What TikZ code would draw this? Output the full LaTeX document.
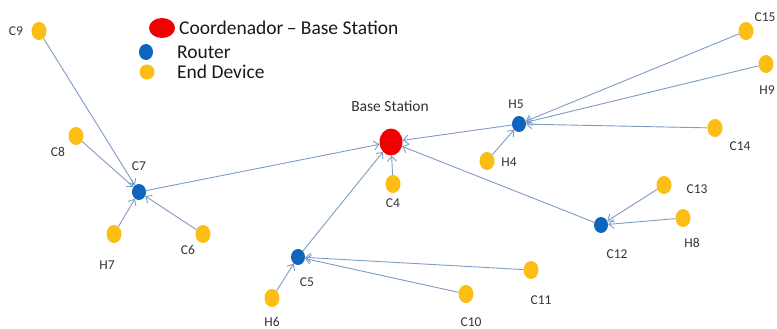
\documentclass[tikz,border=0pt]{standalone}
\usepackage{fontspec}
\setmainfont{Carlito}
\usetikzlibrary{shapes.geometric,arrows.meta}
\definecolor{bsred}{RGB}{240,0,0}
\definecolor{rtblue}{RGB}{15,100,190}
\definecolor{edyellow}{RGB}{252,190,20}
\definecolor{linkcol}{RGB}{125,155,195}
\tikzset{
  bs/.style={ellipse,fill=bsred,draw=none,minimum width=23pt,minimum height=27pt,inner sep=0pt},
  router/.style={ellipse,fill=rtblue,draw=none,minimum width=14pt,minimum height=16pt,inner sep=0pt},
  enddev/.style={ellipse,fill=edyellow,draw=none,minimum width=15pt,minimum height=18pt,inner sep=0pt},
  lbl/.style={font=\fontsize{13.5}{14}\selectfont,text=black!80,inner sep=0pt},
  link/.style={draw=linkcol,line width=0.9pt,-{Straight Barb[length=5pt,width=9pt]}},
  legtext/.style={font=\fontsize{19.5}{21}\selectfont,anchor=west,inner sep=0pt,text=black!90}
}
\begin{document}
\begin{tikzpicture}[x=1pt,y=-1pt]
\useasboundingbox (0,0) rectangle (777,329);
% legend
\node[bs,minimum width=26pt,minimum height=20pt] (legbs) at (162,28) {};
\node[legtext] (legbst) at (179,28) {Coordenador\,– Base Station};
\node[router] (legrt) at (146,52) {};
\node[legtext] (legrtt) at (177,52) {Router};
\node[enddev,minimum width=15pt,minimum height=15pt] (leged) at (147,72) {};
\node[legtext] (legedt) at (177,72) {End Device};

% coordinator
\node[bs] (BS) at (391,142) {};
\node[lbl,font=\fontsize{15.5}{16}\selectfont] at (390,106) {Base Station};

% routers
\node[router] (C7) at (139,192) {};
\node[router] (C5) at (298,257) {};
\node[router] (H5) at (519,124) {};
\node[router] (C12) at (601,225) {};

% end devices
\node[enddev] (C9) at (39,31) {};
\node[enddev] (C8) at (76,136) {};
\node[enddev] (H7) at (114,234) {};
\node[enddev] (C6) at (203,234) {};
\node[enddev] (C4) at (393,184) {};
\node[enddev] (H6) at (272,298) {};
\node[enddev] (H4) at (487,161) {};
\node[enddev] (C14) at (715,128) {};
\node[enddev] (C15) at (746,31) {};
\node[enddev] (H9) at (766,64) {};
\node[enddev] (C13) at (664,185) {};
\node[enddev] (H8) at (683,218) {};
\node[enddev] (C11) at (531,270) {};
\node[enddev] (C10) at (466,294) {};

% labels
\node[lbl] at (16,31) {C9};
\node[lbl] at (58,152) {C8};
\node[lbl] at (139,166) {C7};
\node[lbl] at (107,265) {H7};
\node[lbl] at (188,250) {C6};
\node[lbl] at (393,203) {C4};
\node[lbl] at (307,282) {C5};
\node[lbl] at (272,322) {H6};
\node[lbl] at (516,104) {H5};
\node[lbl] at (509,162) {H4};
\node[lbl] at (740,146) {C14};
\node[lbl] at (765,17) {C15};
\node[lbl] at (767,90) {H9};
\node[lbl] at (617,254) {C12};
\node[lbl] at (697,189) {C13};
\node[lbl] at (692,243) {H8};
\node[lbl] at (541,300) {C11};
\node[lbl] at (471,322) {C10};

% links toward parent
\draw[link] (C9) -- (C7);
\draw[link] (C8) -- (C7);
\draw[link] (H7) -- (C7);
\draw[link] (C6) -- (C7);
\draw[link] (C7) -- (BS);
\draw[link] (C5) -- (BS);
\draw[link] (C4) -- (BS);
\draw[link] (H5) -- (BS);
\draw[link] (C12) -- (BS);
\draw[link] (H6) -- (C5);
\draw[link] (C11) -- (C5);
\draw[link] (C10) -- (C5);
\draw[link] (H4) -- (H5);
\draw[link] (C15) -- (H5);
\draw[link] (H9) -- (H5);
\draw[link] (C14) -- (H5);
\draw[link] (C13) -- (C12);
\draw[link] (H8) -- (C12);
\end{tikzpicture}
\end{document}
